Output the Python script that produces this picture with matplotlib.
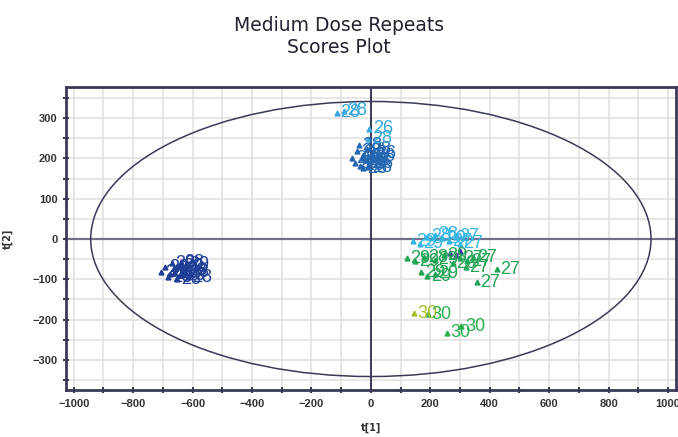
import matplotlib.pyplot as plt
from matplotlib.patches import Ellipse
from matplotlib.ticker import MultipleLocator

# score values t[1], t[2] per group, with observation labels
left_x = [-705, -692, -682, -670, -662, -652, -645, -638, -630, -622, -615, -660, -640, -675, -625]
left_y = [-82, -70, -95, -60, -85, -100, -68, -90, -78, -62, -95, -75, -58, -88, -84]
left_lab = ['28', '29', '28', '29', '28', '28', '29', '28', '28', '29', '28', '29', '28', '28', '28']

top_x = [-62, -52, -45, -35, -28, -20, -12, -5, 2, -40, -25, -8, 5, -30, -15]
top_y = [200, 188, 218, 182, 208, 195, 222, 188, 205, 232, 176, 178, 212, 200, 195]
top_lab = ['28', '26', '28', '28', '26', '28', '28', '26', '28', '28', '28', '28', '26', '28', '28']

top2_x = [-114, -92, -5, -8]
top2_y = [313, 318, 273, 248]
top2_lab = ['28', '28', '26', '28']

cyan_x = [141, 165, 190, 215, 240, 262, 285, 300]
cyan_y = [-5, -12, 5, 10, 2, -5, 5, -12]
cyan_lab = ['29', '29', '28', '28', '29', '27', '27', '27']

green_x = [121, 150, 180, 215, 245, 275, 300, 325, 345, 170, 190, 215, 320, 424, 357]
green_y = [-48, -55, -45, -52, -40, -60, -48, -55, -45, -82, -92, -86, -70, -75, -107]
green_lab = ['29', '29', '28', '29', '29', '26', '27', '27', '27', '29', '29', '29', '27', '27', '27']

navy_x = [265, 285, 300]
navy_y = [-35, -40, -30]
navy_lab = ['', '', '']

yel_x = [145]
yel_y = [-184]
yel_lab = ['30']

g30_x = [193, 256, 305]
g30_y = [-186, -233, -216]
g30_lab = ['30', '30', '30']

groups = [
    (left_x, left_y, left_lab, '#1f3e96'),
    (top_x, top_y, top_lab, '#2367b3'),
    (top2_x, top2_y, top2_lab, '#38a8dc'),
    (cyan_x, cyan_y, cyan_lab, '#35b6e2'),
    (green_x, green_y, green_lab, '#22a456'),
    (navy_x, navy_y, navy_lab, '#3a3aa0'),
    (yel_x, yel_y, yel_lab, '#a8c02c'),
    (g30_x, g30_y, g30_lab, '#2aae4c'),
]

fig = plt.figure(figsize=(6.78, 4.37), dpi=100)
ax = fig.add_axes([0.097, 0.107, 0.9, 0.694])

ax.set_xlim(-1027, 1027)
ax.set_ylim(-375, 377)
ax.xaxis.set_major_locator(MultipleLocator(200))
ax.xaxis.set_minor_locator(MultipleLocator(100))
ax.yaxis.set_major_locator(MultipleLocator(100))
ax.yaxis.set_minor_locator(MultipleLocator(50))
ax.grid(True, which='both', color='#e4e0e0', linewidth=1.2, zorder=0)
ax.set_axisbelow(True)

for s in ax.spines.values():
    s.set_color('#3a3a58')
    s.set_linewidth(2)
ax.tick_params(which='both', direction='inout', length=5, width=1.5, color='#3a3a58',
               labelsize=8, labelcolor='#333333')
for lab in ax.get_xticklabels() + ax.get_yticklabels():
    lab.set_fontfamily('Liberation Sans')
    lab.set_fontweight('bold')

ax.axhline(0, color='#70708a', linewidth=1.6, zorder=1)
ax.axvline(0, color='#3a3a58', linewidth=1.4, zorder=1)
ax.add_patch(Ellipse((0, 0), 2 * 943, 2 * 341, fill=False, edgecolor='#3a3a58', linewidth=1.1, zorder=2))

for xs, ys, labs, c in groups:
    ax.plot(xs, ys, '^', color=c, markersize=3.5, zorder=3)
    for x, y, t in zip(xs, ys, labs):
        ax.annotate(t, (x, y), xytext=(2.5, 0), textcoords='offset points', va='center',
                    fontsize=13, color=c, family='Liberation Sans', zorder=4)

ax.set_xlabel('t[1]', fontsize=7, fontweight='bold', color='#333333', labelpad=10)
ax.set_ylabel('t[2]', fontsize=7, fontweight='bold', color='#333333', labelpad=14)

fig.text(0.5, 0.917, 'Medium Dose Repeats\nScores Plot', ha='center', va='center',
         fontsize=13.5, family='DejaVu Sans', color='#222233', linespacing=1.2)

fig.savefig('out.png', dpi=100)
